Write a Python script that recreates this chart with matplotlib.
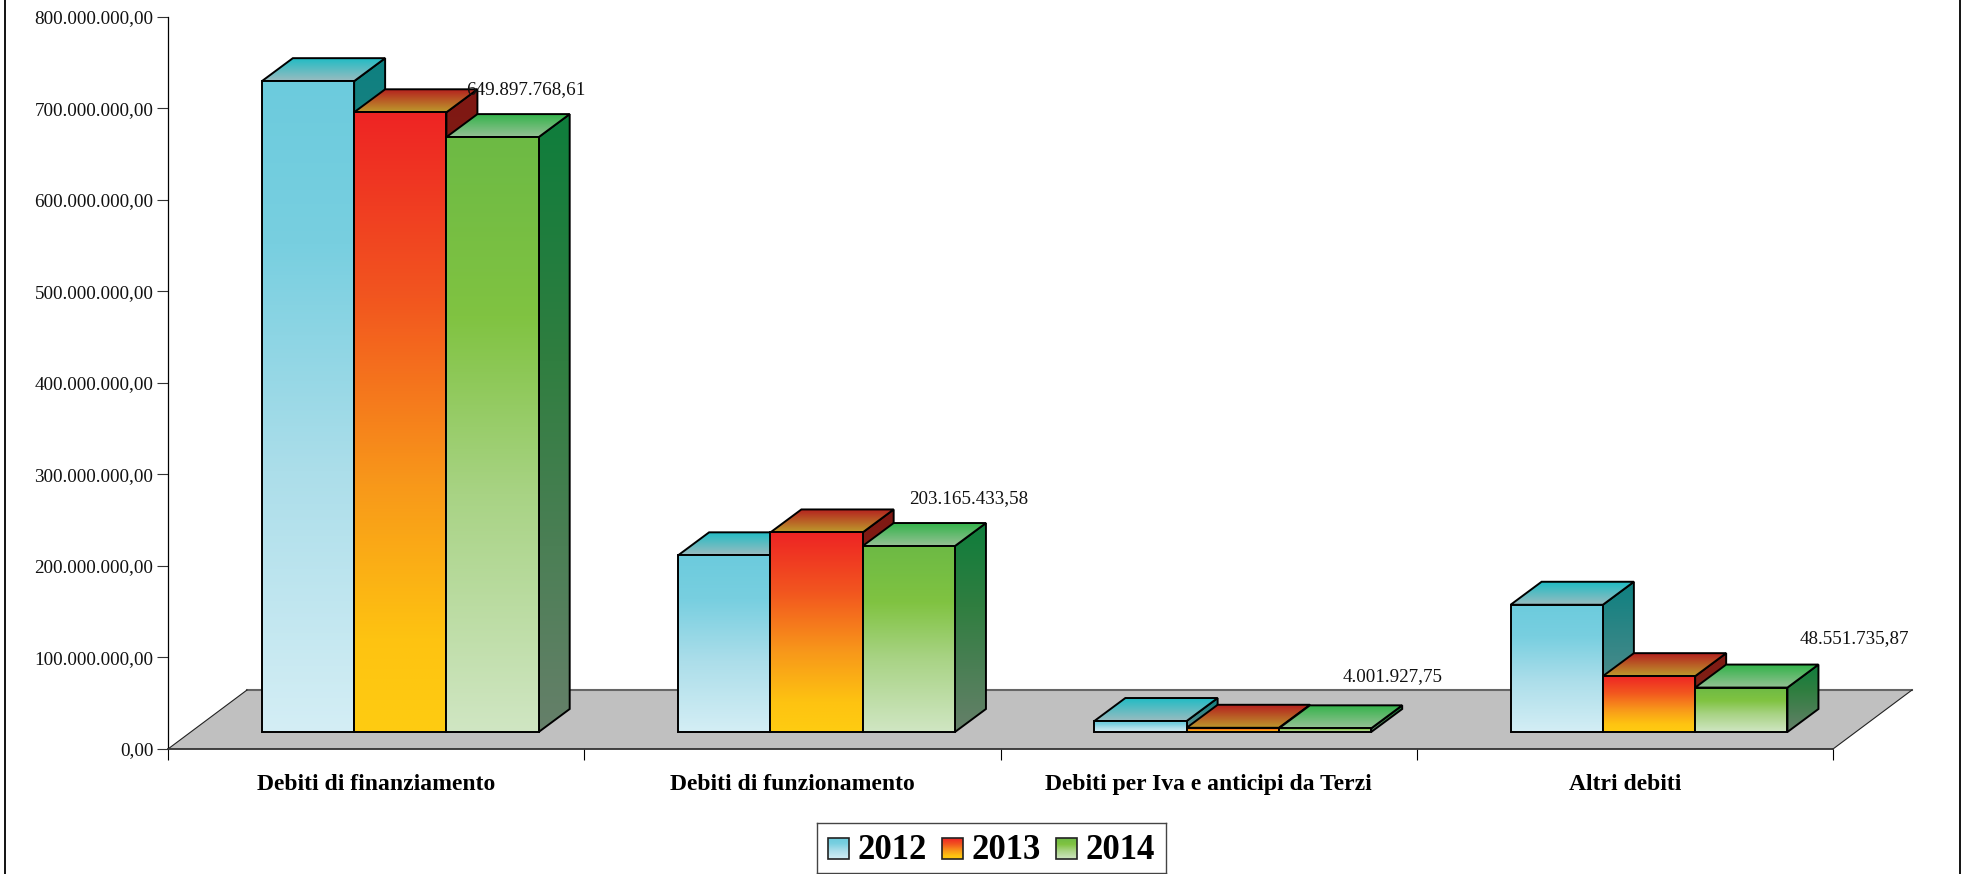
import matplotlib
matplotlib.use("Agg")
import matplotlib.pyplot as plt
import numpy as np
from matplotlib.colors import LinearSegmentedColormap
from matplotlib.patches import Polygon, Rectangle

plt.rcParams['font.family'] = ['Liberation Serif', 'DejaVu Serif']

categories = ["Debiti di finanziamento", "Debiti di funzionamento",
              "Debiti per Iva e anticipi da Terzi", "Altri debiti"]
years = ["2012", "2013", "2014"]
values_2012 = [711000000, 193000000, 12000000, 139000000]
values_2013 = [677000000, 218000000, 4600000, 61000000]
values_2014 = [649897768.61, 203165433.58, 4001927.75, 48551735.87]
y_ticks = [0, 100e6, 200e6, 300e6, 400e6, 500e6, 600e6, 700e6, 800e6]

# layout, figure pixels
W, H = 1961, 874
AX_L, AX_R, AX_T, AX_B = 168, 1833, 16.7, 749
BASE_PX = 17        # bars stand this far above the axis
DEPTH_X, DEPTH_Y = 31, 23
FLOOR_X, FLOOR_Y = 79, 59
GROUP_SHIFT = 0.558
BAR_W = 0.2217
# label offset from the centre of the 2014 bar, px
label_dx = [33, 60, 68, 113]
label_dy = [25, 24, 29, 26]

front_stops = [
    [(0, "#6ccbdd"), (.25, "#78cfe0"), (.6, "#acdeea"), (1, "#d4eef5")],
    [(0, "#ee2424"), (.3, "#f2561f"), (.6, "#f8981a"), (.85, "#fec311"), (1, "#ffcc11")],
    [(0, "#6dba45"), (.3, "#80c341"), (.6, "#a8d384"), (1, "#d0e6c3")],
]
side_stops = [
    [(0, "#0e8080"), (1, "#6a9090")],
    [(0, "#7f1813"), (1, "#80301a")],
    [(0, "#0f7d3c"), (.4, "#307e40"), (1, "#66806a")],
]
top_stops = [
    [(0, "#20bcc4"), (1, "#9abbc0")],
    [(0, "#b5201f"), (1, "#bd9a2c")],
    [(0, "#33b34a"), (1, "#96c195")],
]


def it_format(v):
    return f"{v:,.2f}".replace(",", "#").replace(".", ",").replace("#", ".")


def cmap_of(stops):
    return LinearSegmentedColormap.from_list("g", stops)


GRAD = np.linspace(0, 1, 256).reshape(-1, 1)

fig = plt.figure(figsize=(W / 100, H / 100), dpi=100)
ax = fig.add_axes([AX_L / W, (H - AX_B) / H, (AX_R - AX_L) / W, (AX_B - AX_T) / H])
ax.set_xlim(0, 4)
ax.set_ylim(0, 800e6)

# data units of one pixel
ux = 4 / (AX_R - AX_L)
uy = 800e6 / (AX_B - AX_T)


def grad_poly(a, pts, stops, z):
    xs = [p[0] for p in pts]
    ys = [p[1] for p in pts]
    im = a.imshow(GRAD, cmap=cmap_of(stops), aspect='auto', zorder=z,
                  extent=(min(xs), max(xs), min(ys), max(ys)), origin='upper',
                  interpolation='bilinear')
    poly = Polygon(pts, closed=True, fc='none', ec='black', lw=1.4, zorder=z + 0.1,
                   joinstyle='miter')
    a.add_patch(poly)
    im.set_clip_path(poly)


# floor
fx, fy = FLOOR_X * ux, FLOOR_Y * uy
ax.add_patch(Polygon([(0, 0), (fx, fy), (4 + fx, fy), (4, 0)], closed=True, fc="#c0c0c0",
                     ec='none', clip_on=False, zorder=1))
ax.plot([fx, 4 + fx], [fy, fy], color="#666666", lw=1.5, clip_on=False, zorder=1.1)
ax.plot([0, fx], [0, fy], color="#222222", lw=0.8, clip_on=False, zorder=1.1)
ax.plot([4, 4 + fx], [0, fy], color="#222222", lw=0.8, clip_on=False, zorder=1.1)

# bars
base = BASE_PX * uy
dx, dy = DEPTH_X * ux, DEPTH_Y * uy
series = [values_2012, values_2013, values_2014]
z = 2
for c in range(len(categories)):
    for s, vals in enumerate(series):
        x0 = c + GROUP_SHIFT + (s - 1.5) * BAR_W
        x1 = x0 + BAR_W
        top = base + vals[c]
        grad_poly(ax, [(x1, base), (x1 + dx, base + dy), (x1 + dx, top + dy), (x1, top)],
                  side_stops[s], z)
        grad_poly(ax, [(x0, top), (x0 + dx, top + dy), (x1 + dx, top + dy), (x1, top)],
                  top_stops[s], z + 0.2)
        grad_poly(ax, [(x0, base), (x0, top), (x1, top), (x1, base)],
                  front_stops[s], z + 0.4)
        z += 1
    xc = c + GROUP_SHIFT + BAR_W
    ax.annotate(it_format(values_2014[c]),
                xy=(xc, base + values_2014[c] + dy),
                xytext=(label_dx[c] * 0.72, label_dy[c] * 0.72), textcoords='offset points',
                ha='center', va='center', fontsize=13.7, color="#111111", zorder=50)

# axes
ax.spines['top'].set_visible(False)
ax.spines['right'].set_visible(False)
ax.spines['left'].set_linewidth(0.9)
ax.spines['bottom'].set_linewidth(1.3)
ax.spines['bottom'].set_color("#333333")
ax.spines['left'].set_zorder(40)
ax.spines['bottom'].set_zorder(40)
ax.set_yticks(y_ticks)
ax.set_yticklabels([it_format(v) for v in y_ticks], fontsize=13.8, color="#111111")
ax.tick_params(axis='y', length=8, width=0.8, pad=2.5, color="#333333")
ax.set_xticks(range(len(categories) + 1))
ax.set_xticklabels([])
ax.tick_params(axis='x', which='major', length=8, width=0.8)
ax.set_xticks(np.arange(len(categories)) + 0.5, minor=True)
ax.set_xticklabels(categories, minor=True, fontsize=17, fontweight='bold')
ax.tick_params(axis='x', which='minor', length=0, pad=18)

# page border
fig.add_artist(plt.Line2D([5 / W, 5 / W], [0, 1], color='black', lw=1.3))
fig.add_artist(plt.Line2D([1960 / W, 1960 / W], [0, 1], color='black', lw=1.3))

# legend
LEG_L, LEG_R, LEG_T, LEG_B = 816.7, 1165.7, 822.7, 873
lax = fig.add_axes([LEG_L / W, (H - LEG_B) / H, (LEG_R - LEG_L) / W, (LEG_B - LEG_T) / H])
lax.set_xlim(LEG_L, LEG_R)
lax.set_ylim(LEG_B, LEG_T)
lax.set_xticks([])
lax.set_yticks([])
for sp in lax.spines.values():
    sp.set_linewidth(1.0)
    sp.set_color("#444444")
for s, year in enumerate(years):
    sx = 827.7 + s * 114
    im = lax.imshow(GRAD, cmap=cmap_of(front_stops[s]), aspect='auto',
                    extent=(sx, sx + 21, 859, 838), origin='upper', zorder=2)
    lax.add_patch(Rectangle((sx, 838), 21, 21, fc='none', ec='#222222', lw=1.2, zorder=3))
    lax.text(sx + 30, 850, year, fontsize=25, fontweight='bold', va='center', ha='left',
             color='black')
lax.set_xlim(LEG_L, LEG_R)
lax.set_ylim(LEG_B, LEG_T)

ax.set_xlim(0, 4)
ax.set_ylim(0, 800e6)

fig.savefig("out.png", dpi=100)
